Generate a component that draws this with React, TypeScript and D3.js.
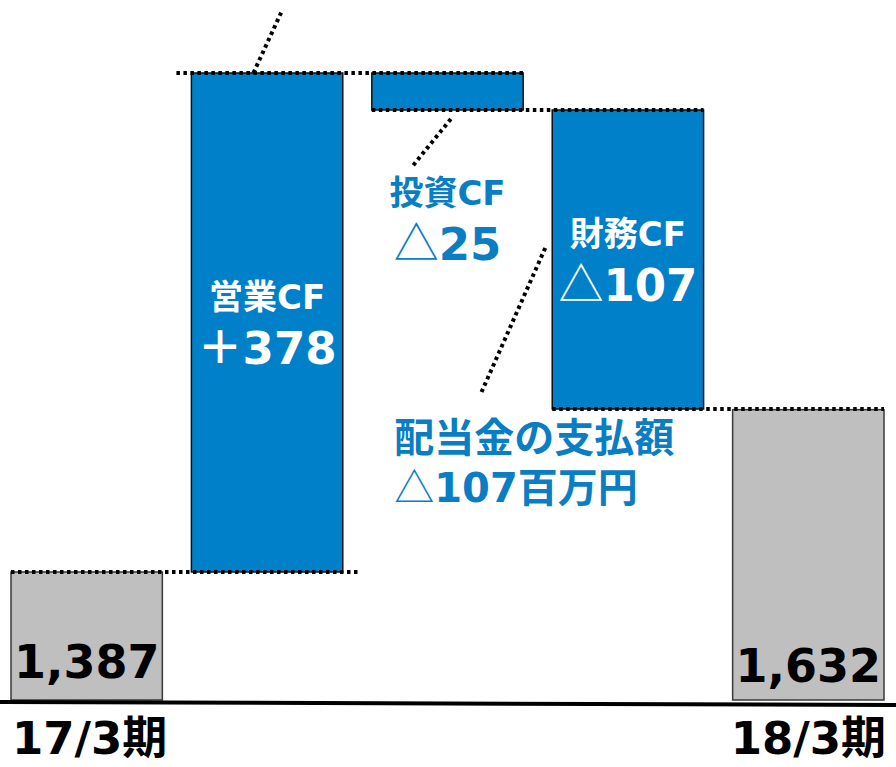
import * as d3 from 'd3';

// cash balance (百万円)
const startLabel = '17/3期';
const endLabel = '18/3期';
const startBalance = 1387;
const endBalance = 1632;

const flowNames = ['営業CF', '投資CF', '財務CF'];
const flowValues = [378, -25, -107];
const flowTexts = ['＋378', '△25', '△107'];

const dividendLines = ['配当金の支払額', '△107百万円'];

const WIDTH = 896;
const HEIGHT = 767;
// pixel heights the source slide uses for each balance level (it is not to scale)
const LEVEL_PX = [700, 572, 409, 110, 73];

const BLUE = '#0080c8';
const TEXT_BLUE = '#0a7dc3';
const GRAY = '#bfbfbf';
const FONT = '"DejaVu Sans", "Noto Sans CJK JP", sans-serif';
const CJK = '"Noto Sans CJK JP", sans-serif';

type Bar = { key: string; from: number; to: number; kind: 'total' | 'flow' };

// the triangle mark is drawn from the CJK font, thin and full width like the slide
function Label({ text }: { text: string }) {
  if (!text.startsWith('△')) return <>{text}</>;
  return (
    <>
      <tspan fontFamily={CJK} fontWeight="normal">
        △
      </tspan>
      {text.slice(1)}
    </>
  );
}

export default function App() {
  const bars: Bar[] = [{ key: startLabel, from: 0, to: startBalance, kind: 'total' }];
  let running = startBalance;
  flowNames.forEach((name, i) => {
    bars.push({ key: name, from: running, to: running + flowValues[i], kind: 'flow' });
    running += flowValues[i];
  });
  bars.push({ key: endLabel, from: 0, to: endBalance, kind: 'total' });

  const levels = Array.from(new Set([0, ...bars.map((b) => b.to)]))
    .filter((v) => v !== endBalance)
    .sort((a, b) => a - b);

  const y = d3.scaleLinear().domain(levels).range(LEVEL_PX);
  const x = d3
    .scaleBand<string>()
    .domain(bars.map((b) => b.key))
    .range([11, 884])
    .paddingInner(0.161);
  const bw = x.bandwidth();
  const x0 = (i: number) => x(bars[i].key)!;
  const x1 = (i: number) => x0(i) + bw;
  const cx = (i: number) => x0(i) + bw / 2;
  const yTop = (b: Bar) => y(Math.max(b.from, b.to));
  const yBot = (b: Bar) => y(Math.min(b.from, b.to));
  const base = y(0);

  const dotted = { stroke: '#000', strokeWidth: 4, strokeDasharray: '3.5 3.5', fill: 'none' };

  const connectors = bars.slice(0, -1).map((b, i) => {
    const level = y(b.to);
    const start = i === 1 ? x0(i) - 15 : x0(i);
    const end = i === 0 ? x1(i + 1) + 15 : x1(i + 1);
    return { level, start, end };
  });

  const b2 = bars[1];
  const b3 = bars[2];
  const b4 = bars[3];

  return (
    <svg
      width={WIDTH}
      height={HEIGHT}
      style={{ position: 'fixed', left: 0, top: 0, background: '#fff' }}
      fontFamily={FONT}
      fontWeight="bold"
    >
      {bars.map((b, i) => (
        <rect
          key={b.key}
          x={x0(i)}
          y={yTop(b)}
          width={bw}
          height={yBot(b) - yTop(b)}
          fill={b.kind === 'total' ? GRAY : BLUE}
          stroke={b.kind === 'total' ? '#3a3a3a' : '#111'}
          strokeWidth={1.5}
        />
      ))}

      <line x1={0} y1={base + 2} x2={WIDTH} y2={base + 5} stroke="#000" strokeWidth={4} />

      {connectors.map((c, i) => (
        <line key={i} x1={c.start} x2={c.end} y1={c.level} y2={c.level} {...dotted} />
      ))}

      {/* callout lines */}
      <line x1={x0(1) + 62} y1={yTop(b2)} x2={x0(1) + 90} y2={yTop(b2) - 61} {...dotted} />
      <line x1={x0(2) + 79} y1={yBot(b3) + 9} x2={x0(2) + 40} y2={yBot(b3) + 57} {...dotted} />
      <line x1={x0(3) - 7} y1={yTop(b4) + 138} x2={x0(3) - 72} y2={yTop(b4) + 285} {...dotted} />

      {/* totals */}
      <text x={cx(0)} y={base - 22} textAnchor="middle" fontSize={46} fill="#000">
        {d3.format(',')(startBalance)}
      </text>
      <text x={cx(4)} y={base - 18} textAnchor="middle" fontSize={46} fill="#000">
        {d3.format(',')(endBalance)}
      </text>

      {/* flow labels */}
      {[1, 3].map((i) => {
        const b = bars[i];
        const mid = (yTop(b) + yBot(b)) / 2;
        return (
          <g key={b.key} fill="#fff" textAnchor="middle">
            <text x={cx(i)} y={mid - 14} fontSize={34}>
              {flowNames[i - 1]}
            </text>
            <text x={cx(i)} y={mid + 41} fontSize={45}>
              <Label text={flowTexts[i - 1]} />
            </text>
          </g>
        );
      })}
      <g fill={TEXT_BLUE} textAnchor="middle">
        <text x={cx(2)} y={yBot(b3) + 95} fontSize={34}>
          {flowNames[1]}
        </text>
        <text x={cx(2)} y={yBot(b3) + 150} fontSize={45}>
          <Label text={flowTexts[1]} />
        </text>
      </g>

      {/* dividend note */}
      <g fill={TEXT_BLUE}>
        {dividendLines.map((t, i) => (
          <text key={t} x={x0(3) - 158} y={yBot(b4) + 43 + i * 50} fontSize={40}>
            <Label text={t} />
          </text>
        ))}
      </g>

      {/* period labels */}
      <text x={x0(0) + 1} y={base + 54} fontSize={45} fill="#000">
        {startLabel}
      </text>
      <text x={x1(4) + 2} y={base + 54} fontSize={45} fill="#000" textAnchor="end">
        {endLabel}
      </text>
    </svg>
  );
}
